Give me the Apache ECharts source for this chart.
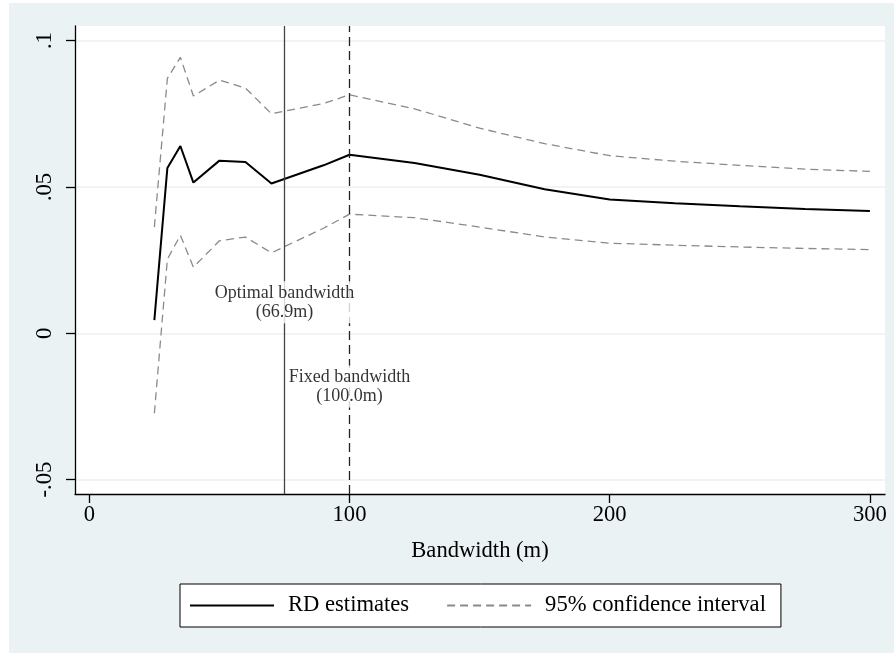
<!DOCTYPE html>
<html>
<head>
<meta charset="utf-8">
<script src="https://cdn.jsdelivr.net/npm/echarts@6/dist/echarts.min.js"></script>
<style>
html,body{margin:0;padding:0;background:#fff;}
#chart{width:894px;height:654px;}
</style>
</head>
<body>
<div id="chart"></div>
<script>
// Data
const bandwidths = [25, 30, 35, 40, 50, 60, 70, 90, 100, 125, 150, 175, 200, 225, 250, 275, 300];
const rdEstimates = [0.0045, 0.0565, 0.0640, 0.0515, 0.0590, 0.0585, 0.0512, 0.0574, 0.0610, 0.0582, 0.0542, 0.0492, 0.0457, 0.0444, 0.0434, 0.0425, 0.0418];
const ciUpper = [0.0363, 0.0871, 0.0943, 0.0811, 0.0865, 0.0838, 0.0750, 0.0785, 0.0815, 0.0767, 0.0701, 0.0648, 0.0607, 0.0588, 0.0574, 0.0561, 0.0553];
const ciLower = [-0.0273, 0.0253, 0.0335, 0.0226, 0.0316, 0.0329, 0.0275, 0.0359, 0.0407, 0.0395, 0.0363, 0.0329, 0.0308, 0.0301, 0.0295, 0.0290, 0.0286];
const xTicks = [0, 100, 200, 300];
const yTicks = [-0.05, 0, 0.05, 0.1];
const yTickLabels = ['-.05', '0', '.05', '.1'];
const optimalLine = 75;
const fixedLine = 100;
const annotations = [
  { x: 75, y: 0.0106, text: 'Optimal bandwidth\n(66.9m)' },
  { x: 100, y: -0.0182, text: 'Fixed bandwidth\n(100.0m)' }
];
const seriesNames = ['RD estimates', '95% confidence interval'];

const FONT = '"Liberation Serif", "Times New Roman", serif';
const FS = 22.6;
const pair = (xs, ys) => xs.map((x, i) => [x, ys[i]]);

const chart = echarts.init(document.getElementById('chart'), null, { renderer: 'canvas' });
chart.setOption({
  backgroundColor: '#ffffff',
  animation: false,
  textStyle: { fontFamily: FONT },
  graphic: [{
    type: 'rect', z: -10, silent: true,
    shape: { x: 9, y: 3, width: 885, height: 650 },
    style: { fill: '#EAF2F3' }
  }],
  grid: {
    left: 75, top: 26, right: 9, bottom: 160,
    show: true, backgroundColor: '#ffffff', borderWidth: 0
  },
  legend: {
    left: 180, top: 584,
    orient: 'horizontal',
    data: seriesNames,
    backgroundColor: '#ffffff',
    borderColor: '#000000', borderWidth: 1, borderRadius: 0,
    padding: [10, 15, 10, 9],
    itemWidth: 84, itemHeight: 14, itemGap: 37,
    itemStyle: { opacity: 0 },
    textStyle: { fontFamily: FONT, fontSize: FS, color: '#000', padding: [0, 0, 0, 9] }
  },
  xAxis: {
    type: 'value', min: -5.5, max: 305.8,
    name: 'Bandwidth (m)', nameLocation: 'middle', nameGap: 46,
    nameTextStyle: { fontFamily: FONT, fontSize: FS, color: '#000' },
    axisLine: { show: true, onZero: false, lineStyle: { color: '#000', width: 1.3 } },
    axisTick: { show: true, length: 9, customValues: xTicks, lineStyle: { color: '#000', width: 1.3 } },
    axisLabel: { customValues: xTicks, fontFamily: FONT, fontSize: FS, color: '#000', margin: 10 },
    splitLine: { show: false }
  },
  yAxis: {
    type: 'value', min: -0.0549, max: 0.1050,
    axisLine: { show: true, onZero: false, lineStyle: { color: '#000', width: 1.3 } },
    axisTick: { show: true, length: 9, customValues: yTicks, lineStyle: { color: '#000', width: 1.3 } },
    axisLabel: {
      customValues: yTicks, rotate: 90, fontFamily: FONT, fontSize: FS, color: '#000', margin: 18,
      formatter: v => { const i = yTicks.findIndex(t => Math.abs(t - v) < 1e-9); return i >= 0 ? yTickLabels[i] : ''; }
    },
    splitLine: { show: true, lineStyle: { color: '#EAF2F3', width: 1.6 } }
  },
  series: [
    {
      name: seriesNames[1], type: 'line', data: pair(bandwidths, ciUpper),
      symbol: 'none', showSymbol: false, z: 3,
      lineStyle: { color: '#8a8a8a', width: 1.3, type: [8, 5] },
      itemStyle: { color: '#8a8a8a' }
    },
    {
      name: seriesNames[1], type: 'line', data: pair(bandwidths, ciLower),
      symbol: 'none', showSymbol: false, z: 3,
      lineStyle: { color: '#8a8a8a', width: 1.3, type: [8, 5] },
      itemStyle: { color: '#8a8a8a' }
    },
    {
      name: seriesNames[0], type: 'line', data: pair(bandwidths, rdEstimates),
      symbol: 'none', showSymbol: false, z: 4,
      lineStyle: { color: '#000000', width: 2 },
      itemStyle: { color: '#000000' },
      markLine: {
        silent: true, symbol: 'none', animation: false,
        label: { show: false },
        data: [
          { xAxis: optimalLine, lineStyle: { color: '#444444', width: 1.3, type: 'solid' } },
          { xAxis: fixedLine, lineStyle: { color: '#222222', width: 1.3, type: [9, 5] } }
        ]
      }
    },
    {
      name: 'annotations', type: 'scatter', z: 10,
      data: annotations.map(a => [a.x, a.y]),
      symbolSize: 0, silent: true,
      label: {
        show: true, position: 'inside',
        formatter: p => annotations[p.dataIndex].text,
        fontFamily: FONT, fontSize: 18, lineHeight: 19, color: '#000',
        backgroundColor: '#ffffff', padding: [2, 2]
      }
    }
  ]
});
</script>
</body>
</html>
